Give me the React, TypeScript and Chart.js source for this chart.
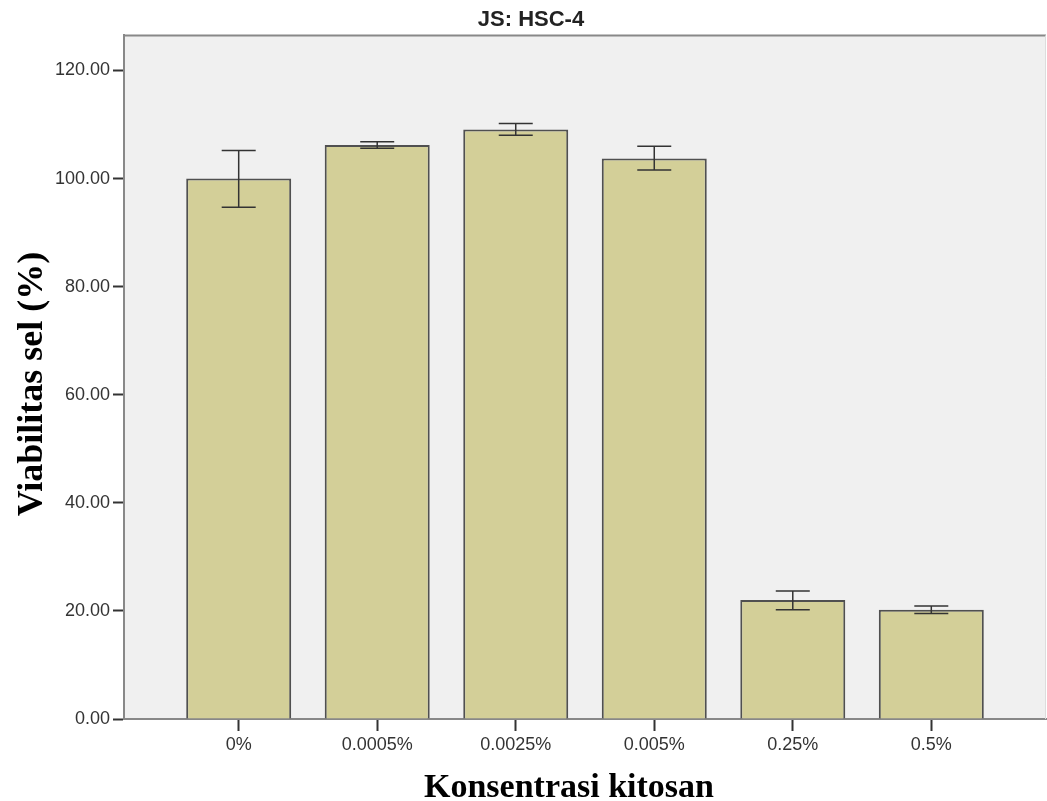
import React, { useEffect, useRef } from "react";
import { Chart, registerables } from "chart.js";

Chart.register(...registerables);

const chartTitle = "JS: HSC-4";
const xAxisTitle = "Konsentrasi kitosan";
const yAxisTitle = "Viabilitas sel (%)";
const categories = ["0%", "0.0005%", "0.0025%", "0.005%", "0.25%", "0.5%"];
const means = [100.0, 106.2, 109.1, 103.7, 22.0, 20.2];
const errLow = [94.7, 105.6, 108.0, 101.6, 20.2, 19.5];
const errHigh = [105.2, 106.8, 110.2, 106.0, 23.7, 20.9];
const yTicks = [0, 20, 40, 60, 80, 100, 120];

const tickFont = { family: '"Liberation Sans", Arial, sans-serif', size: 18 };

const plotFramePlugin = {
  id: "plotFrame",
  beforeDraw(chart: any) {
    const { ctx, chartArea } = chart;
    ctx.save();
    ctx.fillStyle = "#f0f0f0";
    ctx.fillRect(chartArea.left, chartArea.top, chartArea.right - chartArea.left, chartArea.bottom - chartArea.top);
    ctx.restore();
  },
  afterDraw(chart: any) {
    const { ctx, chartArea } = chart;
    ctx.save();
    ctx.strokeStyle = "#888888";
    ctx.lineWidth = 2;
    ctx.beginPath();
    ctx.moveTo(chartArea.left - 1, chartArea.top);
    ctx.lineTo(chartArea.right, chartArea.top);
    ctx.stroke();
    ctx.strokeStyle = "#dddddd";
    ctx.lineWidth = 1;
    ctx.beginPath();
    ctx.moveTo(chartArea.right - 0.5, chartArea.top);
    ctx.lineTo(chartArea.right - 0.5, chartArea.bottom);
    ctx.stroke();

    // axis titles
    ctx.fillStyle = "#000000";
    ctx.font = 'bold 34px "Liberation Serif", "Times New Roman", serif';
    ctx.textAlign = "center";
    ctx.textBaseline = "alphabetic";
    ctx.fillText(xAxisTitle, 569, 797);

    ctx.translate(42, 384);
    ctx.rotate(-Math.PI / 2);
    ctx.font = 'bold 36px "Liberation Serif", "Times New Roman", serif';
    ctx.fillText(yAxisTitle, 0, 0);
    ctx.restore();
  },
};

const errorBarPlugin = {
  id: "errorBars",
  afterDatasetsDraw(chart: any) {
    const { ctx } = chart;
    const xs = chart.scales.x;
    const ys = chart.scales.y;
    ctx.save();
    ctx.strokeStyle = "#333333";
    ctx.lineWidth = 1.5;
    const cap = 17;
    categories.forEach((_, i) => {
      const x = xs.getPixelForValue(i + 1);
      const yl = ys.getPixelForValue(errLow[i]);
      const yh = ys.getPixelForValue(errHigh[i]);
      ctx.beginPath();
      ctx.moveTo(x, yl);
      ctx.lineTo(x, yh);
      ctx.moveTo(x - cap, yl);
      ctx.lineTo(x + cap, yl);
      ctx.moveTo(x - cap, yh);
      ctx.lineTo(x + cap, yh);
      ctx.stroke();
    });
    ctx.restore();
  },
};

export default function App() {
  const canvasRef = useRef<HTMLCanvasElement | null>(null);

  useEffect(() => {
    document.body.style.margin = "0";
    const canvas = canvasRef.current;
    if (!canvas) return;
    const chart = new Chart(canvas, {
      type: "bar",
      data: {
        datasets: [
          {
            label: "Viabilitas sel",
            data: means.map((v, i) => ({ x: i + 1, y: v })),
            backgroundColor: "#d3cf98",
            borderColor: "#505050",
            borderWidth: 2,
            barPercentage: 0.758,
            categoryPercentage: 1,
          },
        ],
      },
      options: {
        animation: false,
        responsive: false,
        devicePixelRatio: 1,
        layout: { padding: { top: 0, left: 16, right: 1, bottom: 0 } },
        plugins: {
          legend: { display: false },
          tooltip: { enabled: false },
          title: {
            display: true,
            text: chartTitle,
            color: "#222222",
            font: { family: '"Liberation Sans", Arial, sans-serif', size: 22, weight: "bold" },
            padding: { top: 7, bottom: 2 },
          },
        },
        scales: {
          x: {
            type: "linear",
            offset: false,
            min: 0.172,
            max: 6.828,
            afterBuildTicks: (scale: any) => {
              scale.ticks = categories.map((_, i) => ({ value: i + 1 }));
            },
            afterFit: (scale: any) => {
              scale.height = 82;
            },
            ticks: {
              color: "#333333",
              font: tickFont,
              padding: 3,
              maxRotation: 0,
              autoSkip: false,
              callback: (v: any) => categories[Number(v) - 1] ?? "",
            },
            grid: {
              offset: false,
              drawOnChartArea: false,
              drawTicks: true,
              tickLength: 12,
              tickWidth: 2,
              tickColor: "#333333",
            },
            border: { display: true, color: "#888888", width: 2 },
          },
          y: {
            type: "linear",
            min: 0,
            max: 126.5,
            afterBuildTicks: (scale: any) => {
              scale.ticks = yTicks.map((v) => ({ value: v }));
            },
            afterFit: (scale: any) => {
              scale.width = 108;
            },
            ticks: {
              color: "#333333",
              font: tickFont,
              padding: 3,
              callback: (v: any) => Number(v).toFixed(2),
            },
            grid: {
              drawOnChartArea: false,
              drawTicks: true,
              tickLength: 11,
              tickWidth: 2,
              tickColor: "#333333",
            },
            border: { display: true, color: "#888888", width: 2 },
          },
        },
      },
      plugins: [plotFramePlugin, errorBarPlugin],
    } as any);
    return () => chart.destroy();
  }, []);

  return (
    <canvas
      ref={canvasRef}
      width={1047}
      height={801}
      style={{ display: "block", width: "1047px", height: "801px" }}
    />
  );
}
